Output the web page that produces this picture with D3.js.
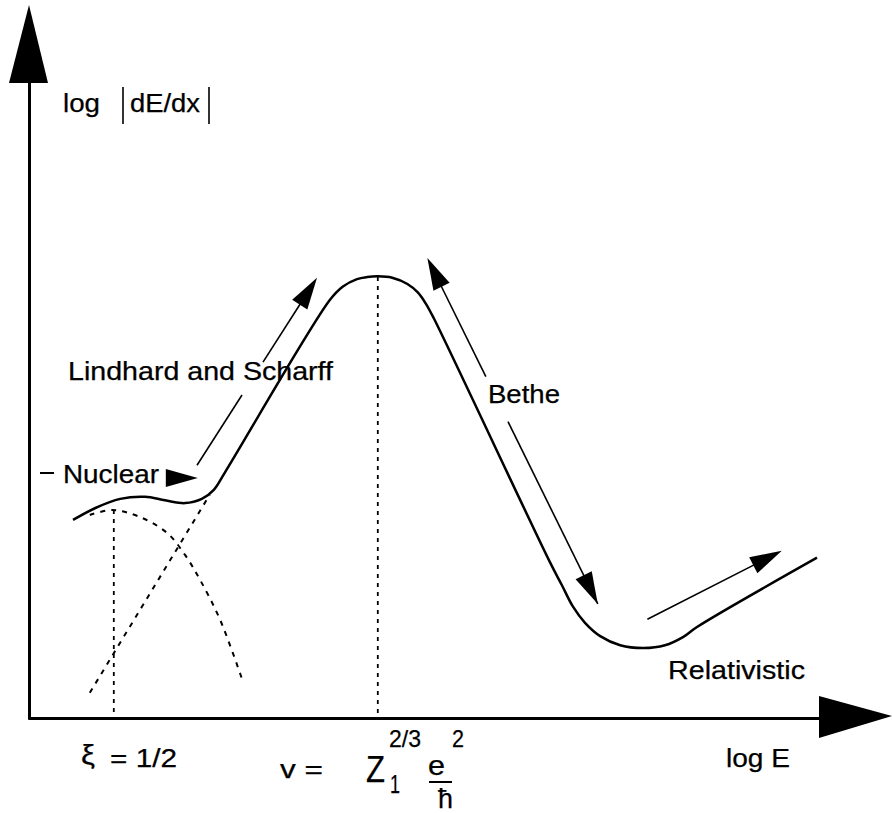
<!DOCTYPE html>
<html>
<head>
<meta charset="utf-8">
<script src="https://cdn.jsdelivr.net/npm/d3@7"></script>
<style>
  html, body { margin: 0; padding: 0; background: #fff; }
  svg { display: block; }
  text { font-family: "Liberation Sans", Arial, Helvetica, sans-serif; fill: #000; stroke: #000; stroke-width: 0.25px; }
</style>
</head>
<body>
<div id="chart"></div>
<script>
// Schematic stopping-power curve, arbitrary units (x: log E, y: log |dE/dx|)
const totalCurve = [
  [5.5, 28.3], [8.3, 30.0], [11.4, 31.3], [14.5, 31.6], [17.0, 31.1],
  [19.5, 30.7], [21.6, 31.3], [23.1, 32.6], [24.5, 35.1], [37.6, 59.7],
  [39.2, 61.6], [41.0, 62.7], [42.3, 63.0], [43.6, 63.1], [45.4, 62.9],
  [47.3, 62.0], [48.6, 60.8], [49.6, 59.2], [50.6, 57.1], [65.1, 22.3],
  [66.6, 19.0], [68.0, 15.9], [69.5, 13.6], [71.4, 11.7], [73.9, 10.4],
  [76.8, 10.0], [79.5, 10.4], [81.8, 11.6], [83.5, 13.0], [98.5, 22.9]
]
const nuclearCurve = [
  [7.6, 29.0], [10.4, 29.7], [13.9, 28.7], [17.3, 26.4], [19.5, 23.3],
  [21.4, 19.7], [23.9, 14.0], [26.8, 5.0]
]
const electronicLine = [[7.6, 3.6], [22.6, 31.9]]
const markers = [
  { x: 10.6, top: 29.7 },   // xi = 1/2
  { x: 43.6, top: 63.0 }    // v = Z1^(2/3) e^2 / hbar
]
// arrows: from -> to, with optional gap (fraction along the shaft) for a label
const arrows = [
  { from: [21.0, 36.1], to: [36.0, 62.9], gap: [0.375, 0.55] },  // Lindhard and Scharff
  { from: [71.1, 16.3], to: [49.8, 65.7], gap: [0.527, 0.657] }, // Bethe, upward
  { from: [49.8, 65.7], to: [71.1, 16.3], gap: null, headOnly: true }, // Bethe, downward head
  { from: [77.3, 14.1], to: [94.1, 23.9], gap: null },           // Relativistic
  { from: [17.0, 34.3], to: [21.1, 34.3], gap: null, noShaft: true } // Nuclear
]

const width = 892, height = 813

const svg = d3.select("#chart").append("svg")
  .attr("width", width).attr("height", height)

const x = d3.scaleLinear().domain([0, 100]).range([29, 829])
const y = d3.scaleLinear().domain([0, 100]).range([718, 18])

// --- axes with arrow heads ---
svg.append("g")
  .attr("transform", `translate(0,${y(0)})`)
  .call(d3.axisBottom(d3.scaleLinear().range([28, 822])).tickValues([]).tickSizeOuter(0))
  .select(".domain").attr("stroke", "#000").attr("stroke-width", 3)

svg.append("g")
  .attr("transform", `translate(${x(0)},0)`)
  .call(d3.axisLeft(d3.scaleLinear().range([719, 80])).tickValues([]).tickSizeOuter(0))
  .select(".domain").attr("stroke", "#000").attr("stroke-width", 3)

svg.append("path")
  .attr("d", `M819,696 L892,716 L819,738 Z`).attr("fill", "#000")
svg.append("path")
  .attr("d", `M29,5 L48,83 L9,83 Z`).attr("fill", "#000")

// --- curves ---
const line = d3.line().x(d => x(d[0])).y(d => y(d[1]))

svg.append("path")
  .datum(totalCurve)
  .attr("d", line.curve(d3.curveCatmullRom.alpha(0.5)))
  .attr("fill", "none").attr("stroke", "#000").attr("stroke-width", 2.5)

svg.append("path")
  .datum(nuclearCurve)
  .attr("d", line.curve(d3.curveCatmullRom.alpha(0.5)))
  .attr("fill", "none").attr("stroke", "#000").attr("stroke-width", 2)
  .attr("stroke-dasharray", "5,6")

svg.append("path")
  .datum(electronicLine)
  .attr("d", line.curve(d3.curveLinear))
  .attr("fill", "none").attr("stroke", "#000").attr("stroke-width", 2)
  .attr("stroke-dasharray", "5,6")

markers.forEach(m => {
  svg.append("line")
    .attr("x1", x(m.x)).attr("x2", x(m.x))
    .attr("y1", y(m.top)).attr("y2", y(0))
    .attr("stroke", "#000").attr("stroke-width", 1.8)
    .attr("stroke-dasharray", "4,5")
})

// --- arrows ---
const headLen = 32, headHalf = 9
arrows.forEach(a => {
  const x0 = x(a.from[0]), y0 = y(a.from[1])
  const x1 = x(a.to[0]), y1 = y(a.to[1])
  const dx = x1 - x0, dy = y1 - y0
  const len = Math.hypot(dx, dy)
  const ux = dx / len, uy = dy / len
  const bx = x1 - ux * headLen, by = y1 - uy * headLen

  if (!a.noShaft && !a.headOnly) {
    const segs = a.gap ? [[0, a.gap[0]], [a.gap[1], 1]] : [[0, 1]]
    segs.forEach(([t0, t1]) => {
      const e1 = Math.min(t1 * len, len - headLen + 2)
      svg.append("line")
        .attr("x1", x0 + ux * t0 * len).attr("y1", y0 + uy * t0 * len)
        .attr("x2", x0 + ux * e1).attr("y2", y0 + uy * e1)
        .attr("stroke", "#000").attr("stroke-width", 1.6)
    })
  }
  svg.append("path")
    .attr("d", `M${x1},${y1} L${bx - uy * headHalf},${by + ux * headHalf} L${bx + uy * headHalf},${by - ux * headHalf} Z`)
    .attr("fill", "#000")
})

// --- labels ---
function label(txt, px, py, size, len) {
  const t = svg.append("text").attr("x", px).attr("y", py)
    .attr("font-size", size).text(txt)
  if (len) t.attr("textLength", len).attr("lengthAdjust", "spacingAndGlyphs")
  return t
}

label("log", 63, 112, 25, 37)
label("dE/dx", 130, 112, 25, 70)
svg.append("line").attr("x1", 123).attr("x2", 123).attr("y1", 87).attr("y2", 124)
  .attr("stroke", "#000").attr("stroke-width", 1.6)
svg.append("line").attr("x1", 209).attr("x2", 209).attr("y1", 87).attr("y2", 124)
  .attr("stroke", "#000").attr("stroke-width", 1.6)

label("Lindhard and Scharff", 68, 380, 25, 265)
label("Nuclear", 63, 483, 25, 96)
svg.append("line").attr("x1", 40).attr("x2", 54).attr("y1", 473).attr("y2", 473)
  .attr("stroke", "#000").attr("stroke-width", 2)
label("Bethe", 488, 403, 25, 72)
label("Relativistic", 668, 679, 25, 137)

label("ξ", 81, 764, 27, 14)
label("= 1/2", 110, 767, 25, 67)
label("v =", 280, 778, 26, 43)
label("Z", 366, 782, 37, 19)
label("1", 390, 793, 26, 10)
label("2/3", 389, 747, 24, 32)
label("e", 428, 775, 27, 17)
label("2", 452, 747, 24, 12)
svg.append("line").attr("x1", 429).attr("x2", 452).attr("y1", 782).attr("y2", 782)
  .attr("stroke", "#000").attr("stroke-width", 2)
label("ħ", 438, 808, 27, 15)
label("log E", 726, 767, 25, 64)
</script>
</body>
</html>
